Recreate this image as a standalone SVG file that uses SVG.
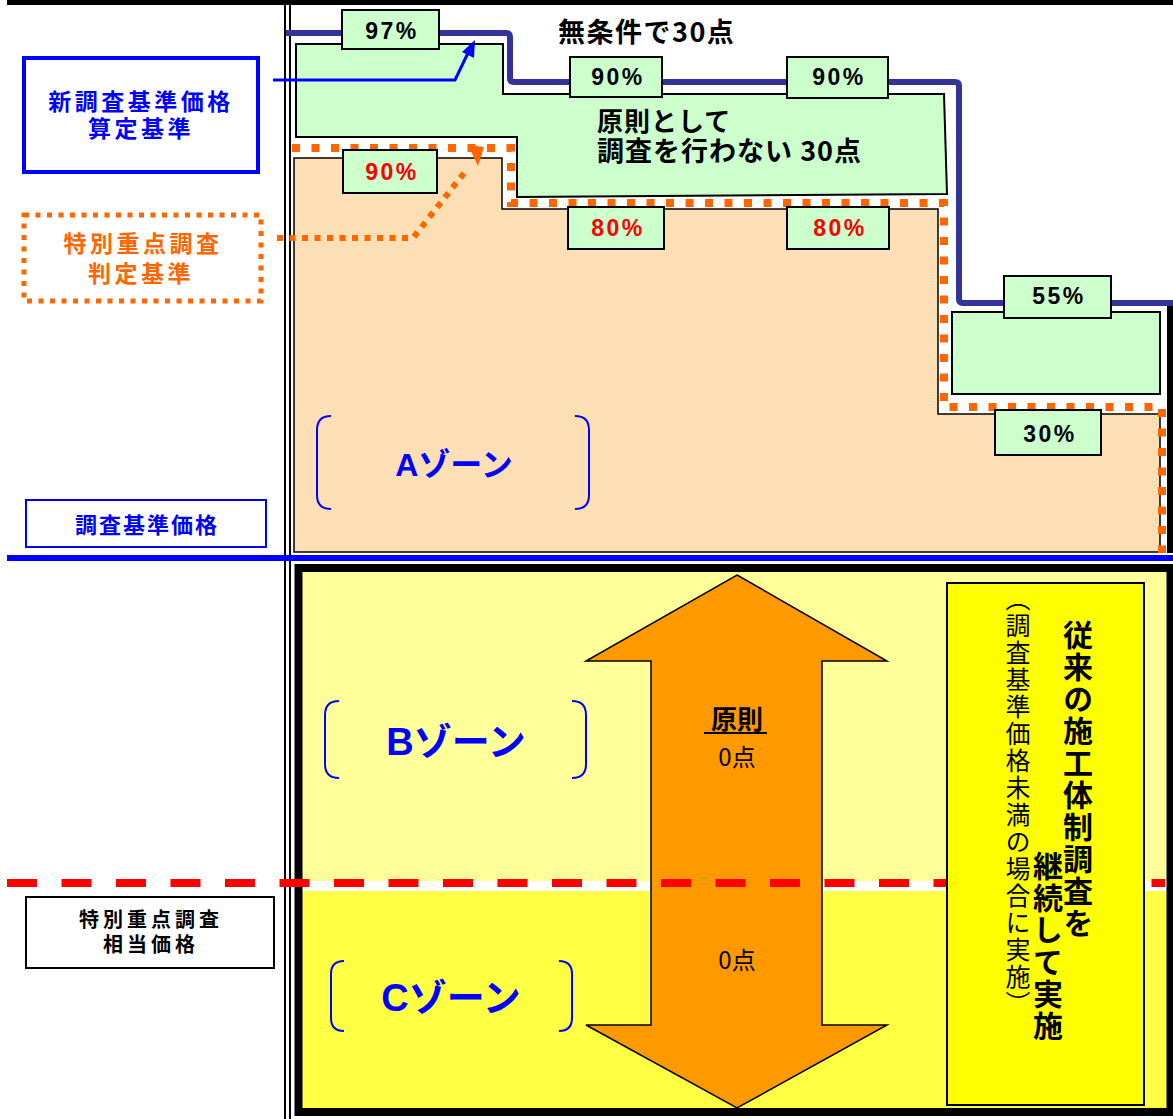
<svg xmlns="http://www.w3.org/2000/svg" width="1173" height="1119" viewBox="0 0 1173 1119">
<style>
.jp{font-family:"Noto Sans CJK JP","Noto Sans CJK SC",sans-serif;font-weight:bold}
.pct{font-family:"Liberation Sans",Arial,sans-serif;font-weight:bold;font-size:23px;letter-spacing:2.5px;text-anchor:middle}
.pbox{fill:#CCFFCC;stroke:#000;stroke-width:2}
.zone{font-family:"Liberation Sans","Noto Sans CJK JP",sans-serif;font-weight:bold;fill:#0000FF;text-anchor:middle}
.brk{fill:none;stroke:#0000FF;stroke-width:2}
.mid{text-anchor:middle}
</style>
<rect width="1173" height="1119" fill="#fff"/>
<g id="frame-lines">
<rect x="7" y="0" width="1166" height="5" fill="#000"/>
<line x1="285" y1="0" x2="285" y2="1119" stroke="#000" stroke-width="2"/>
<line x1="290" y1="0" x2="290" y2="1119" stroke="#000" stroke-width="2"/>
</g>
<g id="zone-a-area">
<polygon points="294,158 502,158 502,209 938,209 938,414 1160,414 1160,552 294,552" fill="#FDDFB5" stroke="#000" stroke-width="1.5"/>
<polygon points="296,44 503,44 503,94 944,94 947,194 517,197 517,137 296,137" fill="#CCFFCC" stroke="#000" stroke-width="2"/>
<rect x="952" y="312" width="208" height="82" fill="#CCFFCC" stroke="#000" stroke-width="2"/>
<line x1="1170" y1="304" x2="1170" y2="553" stroke="#000" stroke-width="6"/>
</g>
<g id="criteria-lines">
<path d="M292,148 H511 V203 H944 V407 H1162 V553" fill="none" stroke="#FF6600" stroke-width="8" stroke-dasharray="8 11.5"/>
<path d="M286,33 H506 Q510,33 510,37 V78 Q510,82 514,82 H955 Q959,82 959,86 V299 Q959,303 963,303 H1173" fill="none" stroke="#333399" stroke-width="6"/>
</g>
<g id="pct-boxes">
<rect class="pbox" x="342" y="10" width="97" height="39"/><text class="pct" x="392" y="39">97%</text>
<rect class="pbox" x="570" y="57" width="92" height="40"/><text class="pct" x="618" y="85">90%</text>
<rect class="pbox" x="787" y="57" width="101" height="41"/><text class="pct" x="839" y="85">90%</text>
<rect class="pbox" x="343" y="150" width="94" height="43"/><text class="pct" x="392" y="180" fill="#FF0000">90%</text>
<rect class="pbox" x="568" y="207" width="96" height="42"/><text class="pct" x="618" y="236" fill="#FF0000">80%</text>
<rect class="pbox" x="787" y="207" width="102" height="42"/><text class="pct" x="840" y="236" fill="#FF0000">80%</text>
<rect class="pbox" x="1004" y="276" width="107" height="42"/><text class="pct" x="1059" y="304">55%</text>
<rect class="pbox" x="995" y="410" width="106" height="45"/><text class="pct" x="1050" y="442">30%</text>
</g>
<g id="top-texts">
<text class="jp" x="558" y="42" font-size="27" letter-spacing="1.5">無条件で30点</text>
<text class="jp" x="597" y="131" font-size="26" letter-spacing="1">原則として</text>
<text class="jp" x="597" y="161" font-size="27" letter-spacing="1">調査を行わない 30点</text>
</g>
<g id="label-new">
<rect x="24" y="58" width="234" height="114" fill="#fff" stroke="#0000FF" stroke-width="4"/>
<text class="jp mid" x="141" y="110" font-size="23" fill="#0000FF" letter-spacing="3.5">新調査基準価格</text>
<text class="jp mid" x="141" y="137" font-size="23" fill="#0000FF" letter-spacing="3.5">算定基準</text>
</g>
<g id="label-special">
<rect x="24" y="215" width="237" height="86" fill="#fff" stroke="#FF6600" stroke-width="5" stroke-dasharray="5 6.5"/>
<text class="jp mid" x="143" y="252" font-size="23" fill="#FF6600" letter-spacing="3.5">特別重点調査</text>
<text class="jp mid" x="141" y="282" font-size="23" fill="#FF6600" letter-spacing="3.5">判定基準</text>
</g>
<g id="label-base">
<rect x="26" y="500" width="240" height="47" fill="#fff" stroke="#0000FF" stroke-width="2"/>
<text class="jp mid" x="147" y="533" font-size="22" fill="#0000FF" letter-spacing="2">調査基準価格</text>
</g>
<g id="label-equiv">
<rect x="26" y="897" width="248" height="71" fill="#fff" stroke="#000" stroke-width="2"/>
<text class="jp mid" x="151" y="927" font-size="20" fill="#000" letter-spacing="4">特別重点調査</text>
<text class="jp mid" x="151" y="952" font-size="20" fill="#000" letter-spacing="4">相当価格</text>
</g>
<g id="connectors">
<polyline points="273,80 455,80 468,53" fill="none" stroke="#0000FF" stroke-width="3"/>
<polygon points="475,40 462,52 474,58" fill="#0000FF"/>
<polyline points="277,238 413,238 468,168" fill="none" stroke="#FF6600" stroke-width="6" stroke-dasharray="6 6.5"/>
<polygon points="468,145 484,147 478,166" fill="#FF6600"/>
</g>
<g id="zone-a">
<path class="brk" d="M331,416 Q317,416 317,430 V495 Q317,509 331,509"/>
<path class="brk" d="M575,416 Q589,416 589,430 V495 Q589,509 575,509"/>
<text class="zone" x="454" y="476" font-size="32">Aゾーン</text>
</g>
<g id="blue-base-line">
<rect x="7" y="555" width="1166" height="6" fill="#0000FF"/>
</g>
<g id="bc-frame">
<rect x="302" y="572" width="866" height="309" fill="#FFFF99"/>
<rect x="302" y="891" width="866" height="217" fill="#FFFF44"/>
<rect x="298.5" y="568" width="872" height="544" fill="none" stroke="#000" stroke-width="8"/>
</g>
<g id="arrow">
<polygon points="737,575 887,661 822,661 822,1025 887,1025 737,1108 586,1025 651,1025 651,661 586,661" fill="#FF9900" stroke="#000" stroke-width="1.5"/>
<text class="jp mid" x="737" y="729" font-size="26">原則</text>
<line x1="704" y1="733" x2="767" y2="733" stroke="#000" stroke-width="2"/>
<text class="mid" x="737" y="766" font-size="24" font-family="Noto Sans CJK JP,sans-serif">0点</text>
<text class="mid" x="737" y="969" font-size="24" font-family="Noto Sans CJK JP,sans-serif">0点</text>
</g>
<g id="special-line">
<line x1="7" y1="883" x2="1165" y2="883" stroke="#FF0000" stroke-width="8" stroke-dasharray="30 24.5"/>
</g>
<g id="zone-b">
<path class="brk" d="M339,701 Q325,701 325,715 V764 Q325,778 339,778"/>
<path class="brk" d="M572,701 Q586,701 586,715 V764 Q586,778 572,778"/>
<text class="zone" x="456" y="755" font-size="38">Bゾーン</text>
</g>
<g id="zone-c">
<path class="brk" d="M344,961 Q331,961 331,974 V1018 Q331,1031 344,1031"/>
<path class="brk" d="M559,961 Q572,961 572,974 V1018 Q572,1031 559,1031"/>
<text class="zone" x="451" y="1011" font-size="38">Cゾーン</text>
</g>
<g id="note-box">
<rect x="947" y="583" width="197" height="522" fill="#FFFF00" stroke="#000" stroke-width="2"/>
<text class="jp" x="1078" y="620" font-size="30" letter-spacing="2" style="writing-mode:vertical-rl">従来の施工体制調査を</text>
<text class="jp" x="1048" y="851" font-size="30" letter-spacing="2" style="writing-mode:vertical-rl">継続して実施</text>
<text x="1018" y="586" font-size="25" letter-spacing="2" font-family="Noto Sans CJK JP,sans-serif" style="writing-mode:vertical-rl">（調査基準価格未満の場合に実施）</text>
</g>
</svg>
